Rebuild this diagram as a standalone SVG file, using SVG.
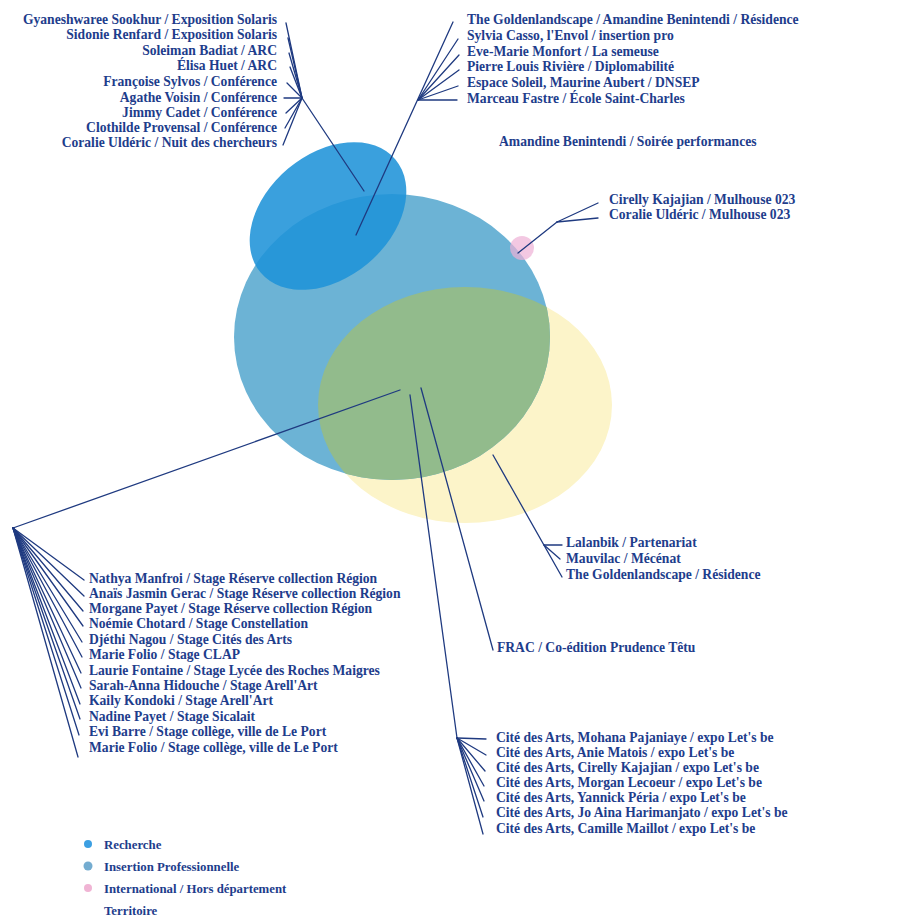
<svg xmlns="http://www.w3.org/2000/svg" width="924" height="917" viewBox="0 0 924 917">
<style>
  text { font-family: "Liberation Serif", "Times New Roman", serif; font-weight: bold; font-size: 13.6px; fill: #1e3d8c; }
  .r { text-anchor: end; }
  .leg { font-size: 12.8px; }
  .c line { stroke: #1f3a80; stroke-width: 1.3; stroke-linecap: round; }
</style>
<defs>
  <clipPath id="bigClip"><ellipse cx="392" cy="337" rx="158" ry="143"/></clipPath>
</defs>
<rect width="924" height="917" fill="#ffffff"/>

<g id="territoire">
  <ellipse cx="465" cy="405" rx="147" ry="118" fill="#fcf4c9"/>
</g>
<g id="insertion">
  <ellipse cx="392" cy="337" rx="158" ry="143" fill="#6cb3d5"/>
</g>
<g id="overlap">
  <ellipse cx="465" cy="405" rx="147" ry="118" fill="#92bb8c" clip-path="url(#bigClip)"/>
</g>
<g id="recherche">
  <ellipse cx="328" cy="216" rx="88" ry="62" transform="rotate(-40 328 216)" fill="#1f93d8" fill-opacity="0.88"/>
</g>
<g id="international">
  <circle cx="522" cy="248" r="12" fill="#eeb0d6" fill-opacity="0.7"/>
</g>

<g id="connectors" class="c">
  <line x1="302" y1="98" x2="364" y2="191"/>
  <line x1="286" y1="23" x2="302" y2="98"/>
  <line x1="288" y1="38" x2="302" y2="98"/>
  <line x1="289" y1="53" x2="302" y2="98"/>
  <line x1="290" y1="67" x2="302" y2="98"/>
  <line x1="287" y1="83" x2="302" y2="98"/>
  <line x1="284" y1="98" x2="302" y2="98"/>
  <line x1="286" y1="113" x2="302" y2="98"/>
  <line x1="285" y1="128" x2="302" y2="98"/>
  <line x1="283" y1="145" x2="302" y2="98"/>
  <line x1="453" y1="22" x2="356" y2="235"/>
  <line x1="458" y1="39" x2="418" y2="100"/>
  <line x1="459" y1="55" x2="418" y2="100"/>
  <line x1="459" y1="70" x2="418" y2="100"/>
  <line x1="458" y1="86" x2="418" y2="100"/>
  <line x1="457" y1="100" x2="418" y2="100"/>
  <line x1="598" y1="203" x2="557" y2="222"/>
  <line x1="598" y1="218" x2="557" y2="222"/>
  <line x1="557" y1="222" x2="518" y2="253"/>
  <line x1="13" y1="528" x2="400" y2="390"/>
  <line x1="13" y1="528" x2="84" y2="580"/>
  <line x1="13" y1="528" x2="84" y2="596"/>
  <line x1="13" y1="528" x2="83" y2="611"/>
  <line x1="13" y1="528" x2="83" y2="626"/>
  <line x1="13" y1="528" x2="82" y2="642"/>
  <line x1="13" y1="528" x2="82" y2="657"/>
  <line x1="13" y1="528" x2="81" y2="673"/>
  <line x1="13" y1="528" x2="81" y2="688"/>
  <line x1="13" y1="528" x2="80" y2="704"/>
  <line x1="13" y1="528" x2="80" y2="719"/>
  <line x1="13" y1="528" x2="79" y2="735"/>
  <line x1="13" y1="528" x2="78" y2="757"/>
  <line x1="410" y1="395" x2="457" y2="738"/>
  <line x1="457" y1="738" x2="486" y2="739"/>
  <line x1="457" y1="738" x2="486" y2="755"/>
  <line x1="457" y1="738" x2="485" y2="771"/>
  <line x1="457" y1="738" x2="484" y2="786"/>
  <line x1="457" y1="738" x2="484" y2="801"/>
  <line x1="457" y1="738" x2="483" y2="817"/>
  <line x1="457" y1="738" x2="483" y2="834"/>
  <line x1="421" y1="388" x2="493" y2="650"/>
  <line x1="493" y1="455" x2="562" y2="577"/>
  <line x1="544" y1="545" x2="562" y2="545"/>
  <line x1="544" y1="545" x2="560" y2="559"/>
</g>

<g id="labels-recherche">
  <text class="r" x="277" y="24">Gyaneshwaree Sookhur / Exposition Solaris</text>
  <text class="r" x="277" y="39">Sidonie Renfard / Exposition Solaris</text>
  <text class="r" x="277" y="55">Soleiman Badiat / ARC</text>
  <text class="r" x="277" y="70">Élisa Huet / ARC</text>
  <text class="r" x="277" y="86">Françoise Sylvos / Conférence</text>
  <text class="r" x="277" y="102">Agathe Voisin / Conférence</text>
  <text class="r" x="277" y="117">Jimmy Cadet / Conférence</text>
  <text class="r" x="277" y="132">Clothilde Provensal / Conférence</text>
  <text class="r" x="277" y="147">Coralie Uldéric / Nuit des chercheurs</text>
</g>
<g id="labels-insertion-top">
  <text x="467" y="24">The Goldenlandscape / Amandine Benintendi / Résidence</text>
  <text x="467" y="40">Sylvia Casso, l'Envol / insertion pro</text>
  <text x="467" y="56">Eve-Marie Monfort / La semeuse</text>
  <text x="467" y="71">Pierre Louis Rivière / Diplomabilité</text>
  <text x="467" y="87">Espace Soleil, Maurine Aubert / DNSEP</text>
  <text x="467" y="103">Marceau Fastre / École Saint-Charles</text>
</g>
<g id="label-soiree">
  <text x="499" y="146">Amandine Benintendi / Soirée performances</text>
</g>
<g id="labels-international">
  <text x="609" y="204">Cirelly Kajajian / Mulhouse 023</text>
  <text x="609" y="219">Coralie Uldéric / Mulhouse 023</text>
</g>
<g id="labels-territoire">
  <text x="566" y="547">Lalanbik / Partenariat</text>
  <text x="566" y="563">Mauvilac / Mécénat</text>
  <text x="566" y="579">The Goldenlandscape / Résidence</text>
</g>
<g id="label-frac">
  <text x="497" y="652">FRAC / Co-édition Prudence Têtu</text>
</g>
<g id="labels-stages">
  <text x="89" y="583">Nathya Manfroi / Stage Réserve collection Région</text>
  <text x="89" y="598">Anaïs Jasmin Gerac / Stage Réserve collection Région</text>
  <text x="89" y="613">Morgane Payet / Stage Réserve collection Région</text>
  <text x="89" y="628">Noémie Chotard / Stage Constellation</text>
  <text x="89" y="644">Djéthi Nagou / Stage  Cités des Arts</text>
  <text x="89" y="659">Marie Folio / Stage CLAP</text>
  <text x="89" y="675">Laurie Fontaine / Stage Lycée des Roches Maigres</text>
  <text x="89" y="690">Sarah-Anna Hidouche / Stage Arell'Art</text>
  <text x="89" y="705">Kaily Kondoki / Stage Arell'Art</text>
  <text x="89" y="721">Nadine Payet / Stage Sicalait</text>
  <text x="89" y="736">Evi Barre / Stage collège, ville de Le Port</text>
  <text x="89" y="752">Marie Folio / Stage collège, ville de Le Port</text>
</g>
<g id="labels-cite">
  <text x="496" y="742">Cité des Arts, Mohana Pajaniaye / expo Let's be</text>
  <text x="496" y="757">Cité des Arts, Anie Matois / expo Let's be</text>
  <text x="496" y="772">Cité des Arts, Cirelly Kajajian / expo Let's be</text>
  <text x="496" y="787">Cité des Arts, Morgan Lecoeur / expo Let's be</text>
  <text x="496" y="802">Cité des Arts, Yannick Péria / expo Let's be</text>
  <text x="496" y="817">Cité des Arts, Jo Aina Harimanjato / expo Let's be</text>
  <text x="496" y="833">Cité des Arts, Camille Maillot / expo Let's be</text>
</g>

<g id="legend">
  <circle cx="88" cy="844" r="4" fill="#3c9fe2"/>
  <circle cx="88" cy="866" r="4.5" fill="#74acd0"/>
  <circle cx="88" cy="888" r="4" fill="#f0b4d4"/>
  <text class="leg" x="104" y="849">Recherche</text>
  <text class="leg" x="104" y="871">Insertion Professionnelle</text>
  <text class="leg" x="104" y="893">International / Hors département</text>
  <text class="leg" x="104" y="915">Territoire</text>
</g>
</svg>
